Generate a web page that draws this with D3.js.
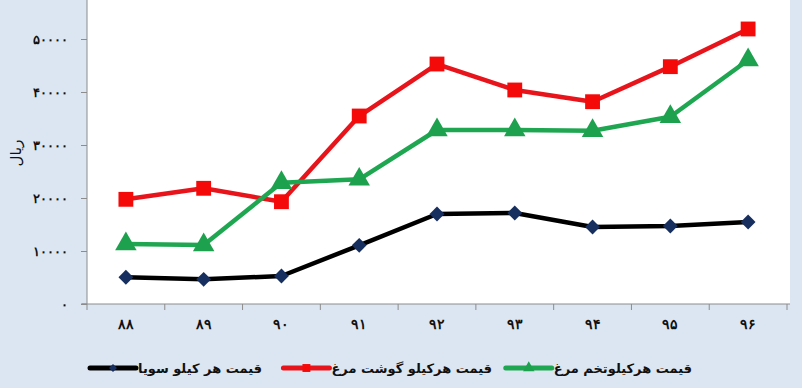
<!DOCTYPE html>
<html>
<head>
<meta charset="utf-8">
<script src="https://cdn.jsdelivr.net/npm/d3@7"></script>
<style>
  body { margin: 0; background: #dce6f2; }
  svg { display: block; font-family: "DejaVu Sans", sans-serif; }
</style>
</head>
<body>
<svg id="chart" width="802" height="388"></svg>
<script>
const years = ['88', '89', '90', '91', '92', '93', '94', '95', '96'];
const soya = [5040, 4660, 5280, 11070, 16980, 17170, 14530, 14720, 15470];
const chicken = [19750, 21830, 19300, 35470, 45280, 40380, 38170, 44780, 51890];
const eggs = [11320, 11130, 22890, 23530, 32830, 32830, 32700, 35340, 46040];
const yTicks = [0, 10000, 20000, 30000, 40000, 50000];
const seriesNames = ['قیمت هر کیلو سویا', 'قیمت هرکیلو گوشت مرغ', 'قیمت هرکیلوتخم مرغ'];

const fa = s => String(s).replace(/\d/g, d => '۰۱۲۳۴۵۶۷۸۹'[d]);

// layout
const left = 87, right = 787, bottom = 304;
const svg = d3.select('#chart');

const x = d3.scaleBand().domain(years).range([left, right]).padding(0);
const y = d3.scaleLinear().domain([0, 60000]).range([bottom, -14]);

// white plot area
svg.append('rect')
   .attr('x', left).attr('y', 0)
   .attr('width', 790 - left).attr('height', bottom)
   .attr('fill', '#fff');

// y axis
const yAxis = svg.append('g')
   .attr('transform', `translate(${left},0)`)
   .call(d3.axisLeft(y).tickValues(yTicks).tickSize(6).tickPadding(13).tickFormat(fa));
yAxis.select('.domain').attr('stroke', '#8c8c8c').attr('d', `M-6,${bottom}H0V0`);
yAxis.selectAll('.tick line').attr('stroke', '#8c8c8c');
yAxis.selectAll('text').attr('font-size', 13).attr('font-weight', 'bold').attr('fill', '#111');

// x axis
const xAxis = svg.append('g')
   .attr('transform', `translate(0,${bottom})`)
   .call(d3.axisBottom(x).tickSize(0).tickPadding(15).tickFormat(fa));
xAxis.select('.domain').attr('stroke', '#8c8c8c').attr('d', `M${left - 5},0H790`);
xAxis.selectAll('text').attr('font-size', 14).attr('font-weight', 'bold').attr('fill', '#111');
xAxis.selectAll('line.edge')
   .data(years.map(d => x(d)).concat([right]))
   .enter().append('line')
   .attr('class', 'edge')
   .attr('x1', d => d).attr('x2', d => d)
   .attr('y1', 0).attr('y2', 6)
   .attr('stroke', '#8c8c8c');

// axis title
svg.append('text')
   .attr('transform', 'translate(21,153) rotate(-90)')
   .attr('text-anchor', 'middle')
   .attr('font-size', 15)
   .attr('fill', '#111')
   .text('ریال');

const cx = d => x(d) + x.bandwidth() / 2;
const line = d3.line().x((d, i) => cx(years[i])).y(d => y(d));

const series = [
  { values: soya, stroke: '#000', fill: '#172f5e', marker: d3.symbolSquare, size: 110, rot: 45 },
  { values: chicken, stroke: '#e8141b', fill: '#f50a0a', marker: d3.symbolSquare, size: 220, rot: 0 },
  { values: eggs, stroke: '#1fa651', fill: '#1ea14e', marker: d3.symbolTriangle, size: 200, rot: 0 },
];

const groups = svg.selectAll('g.series')
   .data(series)
   .enter().append('g')
   .attr('class', 'series');

groups.append('path')
   .attr('d', d => line(d.values))
   .attr('fill', 'none')
   .attr('stroke', d => d.stroke)
   .attr('stroke-width', 4.5)
   .attr('stroke-linejoin', 'round');

groups.each(function (s) {
  d3.select(this).selectAll('path.pt')
    .data(s.values)
    .enter().append('path')
    .attr('class', 'pt')
    .attr('transform', (d, i) => `translate(${cx(years[i])},${y(d)}) rotate(${s.rot})`)
    .attr('d', d3.symbol().type(s.marker).size(s.size))
    .attr('fill', s.fill);
});

// legend
const legendRight = [262, 492, 692];
series.forEach((s, i) => {
  const t = svg.append('text')
     .attr('x', legendRight[i]).attr('y', 373)
     .attr('text-anchor', 'end')
     .attr('font-size', 13)
     .attr('font-weight', 'bold')
     .attr('fill', '#111')
     .text(seriesNames[i]);
  const bb = t.node().getBBox();
  const x1 = bb.x - 48, x2 = bb.x - 2;
  svg.append('line')
     .attr('x1', x1).attr('x2', x2).attr('y1', 368).attr('y2', 368)
     .attr('stroke', s.stroke).attr('stroke-width', 5)
     .attr('stroke-linecap', 'round');
  svg.append('path')
     .attr('transform', `translate(${(x1 + x2) / 2},368) rotate(${s.rot})`)
     .attr('d', d3.symbol().type(s.marker).size(s.size / 3.5))
     .attr('fill', s.fill);
});
</script>
</body>
</html>
